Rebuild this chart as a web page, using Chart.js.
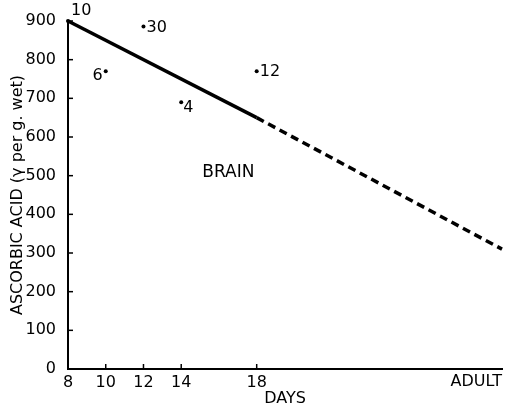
<!DOCTYPE html>
<html>
<head>
<meta charset="utf-8">
<script src="https://cdn.jsdelivr.net/npm/chart.js@4"></script>
<style>
  html, body { margin: 0; padding: 0; background: #fff; }
  #wrap { width: 506px; height: 413px; }
</style>
</head>
<body>
<div id="wrap"><canvas id="brainChart"></canvas></div>
<script>
// x positions of the day ticks; ADULT sits at the far right
const dayTicks = [8, 10, 12, 14, 18];
const adultX = 31;
const yTicks = [0, 100, 200, 300, 400, 500, 600, 700, 800, 900];

// fitted line (solid part, then dashed extrapolation to adult)
const solidLine = [{ x: 8, y: 900 }, { x: 18, y: 650 }];
const dashedLine = [{ x: 18, y: 650 }, { x: adultX, y: 310 }];

// observed points and the number written beside each
const pointDays = [8, 12, 10, 14, 18];
const pointValues = [900, 886, 770, 690, 770];
const pointCounts = ['10', '30', '6', '4', '12'];
const labelSide = ['above', 'right', 'left', 'belowright', 'right'];

const font = 'DejaVu Sans, sans-serif';

const annotate = {
    id: 'annotate',
    afterDatasetsDraw(chart) {
        const ctx = chart.ctx;
        const xs = chart.scales.x, ys = chart.scales.y;
        const area = chart.chartArea;
        ctx.save();
        ctx.fillStyle = '#000';
        ctx.strokeStyle = '#000';
        ctx.lineWidth = 1.5;
        // inward tick marks
        dayTicks.slice(1).forEach(d => {
            const px = xs.getPixelForValue(d);
            ctx.beginPath();
            ctx.moveTo(px, area.bottom);
            ctx.lineTo(px, area.bottom - 5);
            ctx.stroke();
        });
        yTicks.slice(1).forEach(v => {
            const py = ys.getPixelForValue(v);
            ctx.beginPath();
            ctx.moveTo(area.left, py);
            ctx.lineTo(area.left + 5, py);
            ctx.stroke();
        });
        // counts beside the points
        ctx.font = '16px ' + font;
        ctx.textBaseline = 'middle';
        pointDays.forEach((d, i) => {
            const px = xs.getPixelForValue(d);
            const py = ys.getPixelForValue(pointValues[i]);
            const side = labelSide[i];
            if (side === 'above') { ctx.textAlign = 'left'; ctx.fillText(pointCounts[i], px + 3, py - 10); }
            else if (side === 'right') { ctx.textAlign = 'left'; ctx.fillText(pointCounts[i], px + 3, py + 1); }
            else if (side === 'left') { ctx.textAlign = 'right'; ctx.fillText(pointCounts[i], px - 3, py + 5); }
            else { ctx.textAlign = 'left'; ctx.fillText(pointCounts[i], px + 2, py + 6); }
        });
        // BRAIN label
        ctx.font = '17px ' + font;
        ctx.textAlign = 'center';
        ctx.fillText('BRAIN', xs.getPixelForValue(16.5), ys.getPixelForValue(509));
        // ADULT tick label, right aligned at the edge
        ctx.font = '16px ' + font;
        ctx.textAlign = 'right';
        ctx.textBaseline = 'middle';
        ctx.fillText('ADULT', area.right, area.bottom + 13);
        ctx.restore();
    }
};

new Chart(document.getElementById('brainChart'), {
    type: 'scatter',
    data: {
        datasets: [
            {
                type: 'line',
                data: solidLine,
                borderColor: '#000',
                borderWidth: 3.5,
                pointRadius: 0
            },
            {
                type: 'line',
                data: dashedLine,
                borderColor: '#000',
                borderWidth: 3.5,
                borderDash: [8, 5],
                pointRadius: 0
            },
            {
                data: pointDays.map((d, i) => ({ x: d, y: pointValues[i] })),
                backgroundColor: '#000',
                borderColor: '#000',
                borderWidth: 0,
                pointRadius: 2
            }
        ]
    },
    options: {
        responsive: true,
        maintainAspectRatio: false,
        animation: false,
        clip: false,
        layout: { padding: { top: 21, right: 1, left: 0, bottom: 0 } },
        plugins: {
            legend: { display: false },
            tooltip: { enabled: false }
        },
        scales: {
            x: {
                type: 'linear',
                min: 8,
                max: adultX,
                afterBuildTicks: s => { s.ticks = dayTicks.map(v => ({ value: v })); },
                afterFit: s => { s.height = 44; },
                grid: { display: false },
                border: { display: true, color: '#000', width: 2 },
                ticks: { color: '#000', font: { family: font, size: 16 }, padding: -4, maxRotation: 0 },
                title: { display: true, text: 'DAYS', color: '#000', font: { family: font, size: 16 }, padding: { top: 0, bottom: 5 } }
            },
            y: {
                min: 0,
                max: 900,
                afterBuildTicks: s => { s.ticks = yTicks.map(v => ({ value: v })); },
                afterFit: s => { s.width = 68; },
                grid: { display: false },
                border: { display: true, color: '#000', width: 2 },
                ticks: { color: '#000', font: { family: font, size: 16 }, padding: 4 },
                title: { display: true, text: 'ASCORBIC ACID (\u03b3 per g. wet)', color: '#000', font: { family: font, size: 16 }, padding: { top: 8, bottom: 4 } }
            }
        }
    },
    plugins: [annotate]
});
</script>
</body>
</html>
